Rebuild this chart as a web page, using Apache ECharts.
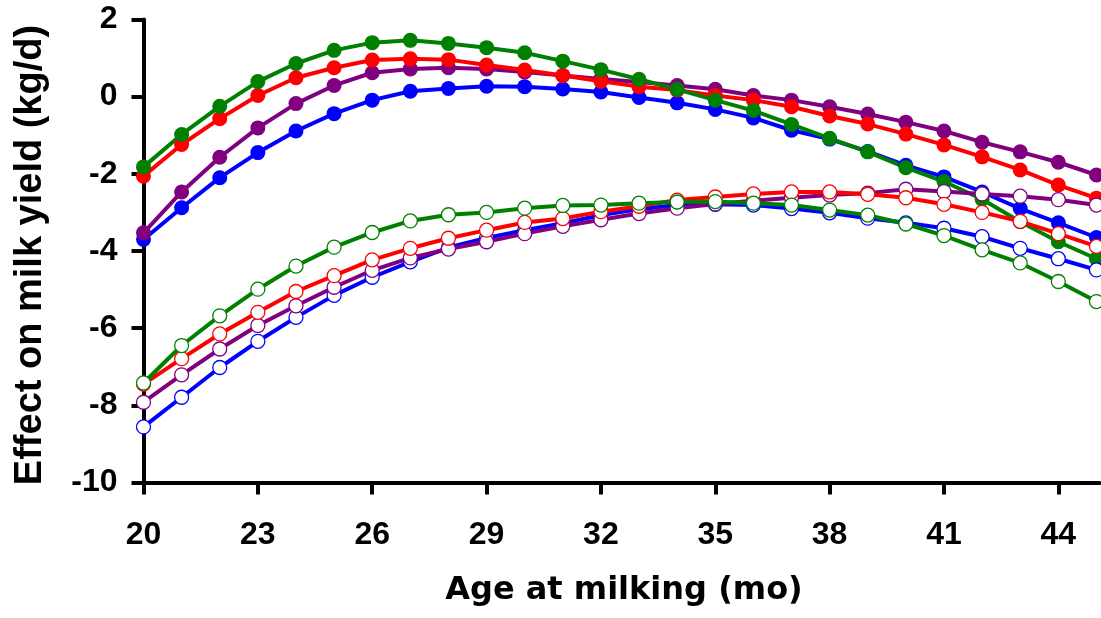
<!DOCTYPE html>
<html>
<head>
<meta charset="utf-8">
<script src="https://cdn.jsdelivr.net/npm/echarts@6/dist/echarts.min.js"></script>
<style>html,body{margin:0;padding:0;background:#fff}#c{width:1101px;height:618px}</style>
</head>
<body>
<div id="c"></div>
<script>
var ages = [20,21,22,23,24,25,26,27,28,29,30,31,32,33,34,35,36,37,38,39,40,41,42,43,44,45];
var xTicks = [20,23,26,29,32,35,38,41,44];

var filledGreen  = [-1.82,-0.98,-0.25,0.39,0.86,1.20,1.40,1.46,1.38,1.27,1.14,0.92,0.70,0.45,0.19,-0.09,-0.36,-0.72,-1.08,-1.43,-1.84,-2.20,-2.66,-3.24,-3.76,-4.20];
var filledRed    = [-2.06,-1.24,-0.57,0.03,0.49,0.75,0.95,0.98,0.96,0.82,0.69,0.55,0.40,0.26,0.17,0.03,-0.09,-0.26,-0.50,-0.71,-0.97,-1.25,-1.56,-1.90,-2.29,-2.63];
var filledPurple = [-3.53,-2.47,-1.57,-0.81,-0.18,0.29,0.62,0.72,0.75,0.72,0.64,0.55,0.46,0.38,0.29,0.19,0.03,-0.09,-0.26,-0.45,-0.66,-0.89,-1.18,-1.43,-1.70,-2.03];
var filledBlue   = [-3.70,-2.88,-2.10,-1.45,-0.89,-0.44,-0.09,0.14,0.21,0.27,0.26,0.20,0.12,-0.02,-0.16,-0.33,-0.55,-0.87,-1.10,-1.42,-1.78,-2.08,-2.47,-2.90,-3.27,-3.65];

var openGreen  = [-7.42,-6.45,-5.68,-4.99,-4.39,-3.90,-3.52,-3.22,-3.06,-3.00,-2.89,-2.82,-2.81,-2.76,-2.73,-2.72,-2.76,-2.81,-2.94,-3.07,-3.30,-3.60,-3.97,-4.31,-4.79,-5.31];
var openRed    = [-7.45,-6.79,-6.15,-5.59,-5.05,-4.64,-4.23,-3.93,-3.67,-3.46,-3.26,-3.16,-2.98,-2.84,-2.68,-2.60,-2.52,-2.47,-2.47,-2.53,-2.62,-2.79,-3.00,-3.23,-3.55,-3.88];
var openPurple = [-7.92,-7.21,-6.54,-5.93,-5.42,-4.94,-4.50,-4.18,-3.95,-3.76,-3.55,-3.36,-3.19,-3.03,-2.89,-2.78,-2.70,-2.62,-2.55,-2.50,-2.40,-2.46,-2.52,-2.58,-2.67,-2.81];
var openBlue   = [-8.56,-7.79,-7.02,-6.34,-5.72,-5.15,-4.68,-4.28,-3.91,-3.66,-3.46,-3.28,-3.07,-2.92,-2.81,-2.79,-2.81,-2.90,-3.01,-3.15,-3.27,-3.41,-3.63,-3.93,-4.20,-4.49];

var GREEN = '#008000', RED = '#ff0000', PURPLE = '#800080', BLUE = '#0000ff';

function pairs(vals){ return ages.map(function(a,i){ return [a, vals[i]]; }); }

function filled(name, vals, col){
  return {
    name: name, type: 'line', data: pairs(vals),
    symbol: 'circle', symbolSize: 15, showSymbol: true,
    lineStyle: { color: col, width: 4 },
    itemStyle: { color: col, borderWidth: 0 },
    emphasis: { disabled: true }, silent: true
  };
}
function open(name, vals, col){
  return {
    name: name, type: 'line', data: pairs(vals),
    symbol: 'circle', symbolSize: 14, showSymbol: true,
    lineStyle: { color: col, width: 4 },
    itemStyle: { color: '#ffffff', borderColor: col, borderWidth: 1.3 },
    emphasis: { disabled: true }, silent: true
  };
}

var chart = echarts.init(document.getElementById('c'), null, { renderer: 'canvas' });
chart.setOption({
  animation: false,
  backgroundColor: '#ffffff',
  grid: { left: 143.5, right: 1.5, top: 19.5, bottom: 135.5, containLabel: false, outerBoundsMode: 'none' },
  xAxis: {
    type: 'value', min: 20, max: 45.08,
    axisLine: { show: true, onZero: false, lineStyle: { color: '#000', width: 4 } },
    axisTick: { show: true, length: 12, inside: false, customValues: xTicks, lineStyle: { color: '#000', width: 4 } },
    axisLabel: { customValues: xTicks, margin: 37, fontSize: 32, fontWeight: 'bold', color: '#000', fontFamily: 'Liberation Sans' },
    splitLine: { show: false }
  },
  yAxis: {
    type: 'value', min: -10, max: 2, interval: 2,
    axisLine: { show: true, onZero: false, lineStyle: { color: '#000', width: 4 } },
    axisTick: { show: true, length: 12, inside: false, lineStyle: { color: '#000', width: 4 } },
    axisLabel: { margin: 26, fontSize: 32, fontWeight: 'bold', color: '#000', fontFamily: 'Liberation Sans' },
    splitLine: { show: false }
  },
  graphic: [
    { type: 'text', x: 624, y: 591, style: { text: 'Age at milking (mo)', font: 'bold 32px "DejaVu Sans"', fill: '#000', textAlign: 'center', textVerticalAlign: 'middle' } },
    { type: 'text', x: 31, y: 255, rotation: Math.PI/2, style: { text: 'Effect on milk yield (kg/d)', font: 'bold 38px "Liberation Sans"', fill: '#000', textAlign: 'center', textVerticalAlign: 'middle' } }
  ],
  series: [
    filled('Blue filled', filledBlue, BLUE),
    filled('Purple filled', filledPurple, PURPLE),
    filled('Red filled', filledRed, RED),
    filled('Green filled', filledGreen, GREEN),
    open('Blue open', openBlue, BLUE),
    open('Purple open', openPurple, PURPLE),
    open('Red open', openRed, RED),
    open('Green open', openGreen, GREEN)
  ]
});
</script>
</body>
</html>
